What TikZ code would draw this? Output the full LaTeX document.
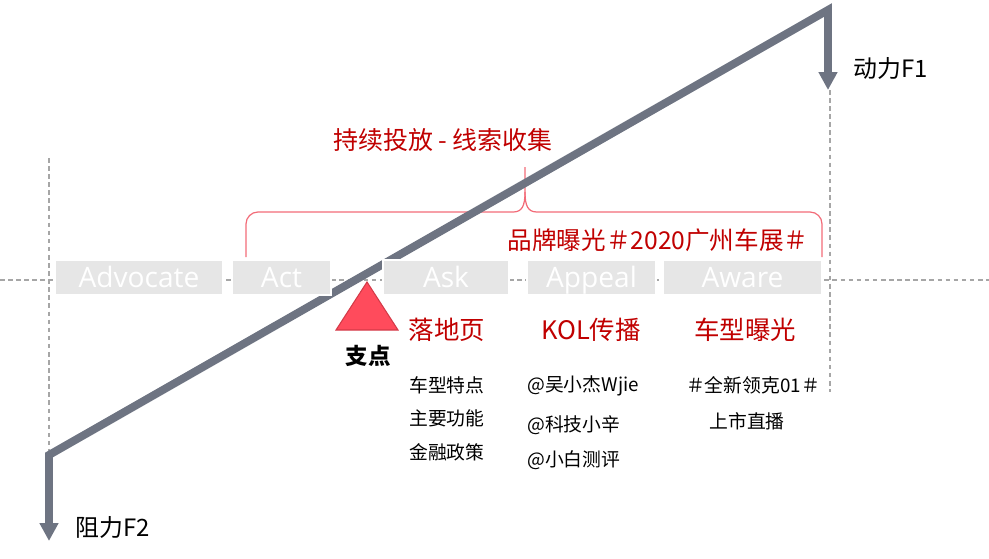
\documentclass[tikz,border=0pt]{standalone}
\usepackage{fontspec}
\setmainfont{Noto Sans CJK SC}
\newfontfamily\stagefont{Open Sans}
\usetikzlibrary{arrows.meta,positioning}
\definecolor{levergray}{HTML}{6E7482}
\definecolor{stagefill}{HTML}{E6E6E6}
\definecolor{hot}{HTML}{C00000}
\definecolor{bracecol}{HTML}{F26B78}
\definecolor{pivotred}{HTML}{FF4B5C}
\definecolor{pivotedge}{HTML}{D33A48}
\definecolor{guide}{HTML}{A6A6A6}

\begin{document}
\begin{tikzpicture}[x=0.02cm,y=-0.02cm,
 stagebox/.style={fill=stagefill,draw=white,line width=1.2pt,inner sep=0pt,minimum height=0.7cm,
  text=white,font=\stagefont\fontsize{16}{16}\selectfont,text height=0.38cm,text depth=0cm},
 head/.style={text=hot,font=\fontsize{14.5}{14.5}\selectfont,inner sep=0pt},
 item/.style={font=\fontsize{10.7}{10.7}\selectfont,inner sep=0pt},
 force/.style={font=\fontsize{13.6}{13.6}\selectfont,inner sep=0pt,anchor=west},
 guideline/.style={draw=guide,dash pattern=on 2.6pt off 2pt,line width=0.6pt},
 bracket/.style={draw=bracecol,line width=0.7pt},
 lever/.style={draw=levergray,line width=4.5pt,line join=miter},
 >={Triangle[length=0.36cm,width=0.36cm]}]
\useasboundingbox (0,0) rectangle (989,558);
% guides
\coordinate (lo) at (49,455);
\coordinate (hi) at (828,10);
\coordinate (tipL) at (49,541);
\coordinate (tipR) at (828,90);
\draw[guideline] (0,280) -- (989,280);
\draw[guideline] (49,158) -- (lo);
\draw[guideline] (830,90) -- (830,392);
% brace
\draw[bracket] (246,257) -- (246,224) to[out=90,in=180] (258,212) -- (513,212)
 .. controls (522,212) and (525,206) .. (525,192) -- (525,167);
\draw[bracket] (525,192) .. controls (525,206) and (528,212) .. (537,212) -- (810,212)
 to[out=0,in=90] (822,224) -- (822,257);
% lever
\draw[lever,<->] (tipL) -- (lo) -- (hi) -- (tipR);
% stages
\foreach \n/\cx/\w in {Advocate/139/168,Act/281.5/99,Ask/446/126,Appeal/591.5/129,Aware/742.5/159}
 \node[stagebox,minimum width=\w*0.02cm] (\n) at (\cx,277.5) {\n};
% fulcrum
\coordinate (apex) at (367,282);
\draw[fill=pivotred,draw=pivotedge,line width=0.6pt] (apex) -- (398,330) -- (336,330) -- cycle;
\node[font=\bfseries\fontsize{12.8}{12.8}\selectfont,inner sep=0pt] (pivot) at (368,356) {支点};
% labels
\node[force] (pull) at (853,68) {动力F1};
\node[force] (drag) at (75,527) {阻力F2};
\node[head,font=\fontsize{14.2}{14.2}\selectfont] (plan) at (443,140) {持续投放 - 线索收集};
\node[head,font=\fontsize{14}{14}\selectfont] (expo) at (658,240) {品牌曝光＃2020广州车展＃};
\node[head] (landing) at (447,330) {落地页};
\node[head] (kol) at (591,330) {KOL传播};
\node[head] (model) at (745,330) {车型曝光};
\node[item,anchor=west] (l1) at (409,385) {车型特点};
\node[item,anchor=west] (l2) at (409,418) {主要功能};
\node[item,anchor=west] (l3) at (409,452) {金融政策};
\node[item,anchor=west] (k1) at (527,386) {@吴小杰Wjie};
\node[item,anchor=west] (k2) at (527,425) {@科技小辛};
\node[item,anchor=west] (k3) at (527,460) {@小白测评};
\node[item] (m1) at (753,385) {＃全新领克01＃};
\node[item] (m2) at (747,421) {上市直播};
\end{tikzpicture}
\end{document}
